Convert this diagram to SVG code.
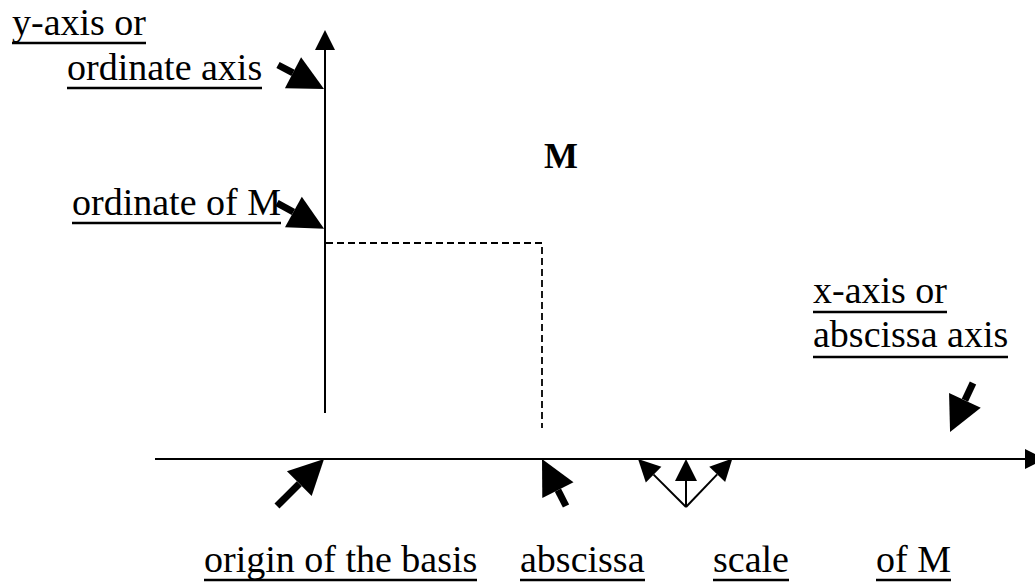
<svg xmlns="http://www.w3.org/2000/svg" width="1035" height="584" viewBox="0 0 1035 584">
  <style>
    text { font-family: "Liberation Serif", "Times New Roman", serif; font-size: 38px; fill: #000; }
    .b { font-weight: bold; font-size: 36px; }
    .ul { stroke: #000; stroke-width: 2.5; }
    .axis { stroke: #000; stroke-width: 2; fill: none; }
    .dash { stroke: #000; stroke-width: 1.8; stroke-dasharray: 7 4; fill: none; }
    .thick { stroke: #000; stroke-width: 7; fill: none; marker-end: url(#bigHead); }
    .thin { stroke: #000; stroke-width: 2; fill: none; marker-end: url(#smallHead); }
  </style>
  <defs>
    <marker id="bigHead" markerUnits="userSpaceOnUse" markerWidth="35" markerHeight="35" refX="0" refY="17.5" orient="auto" overflow="visible">
      <path d="M0,0 L35,17.5 L0,35 z" fill="#000"/>
    </marker>
    <marker id="smallHead" markerUnits="userSpaceOnUse" markerWidth="22" markerHeight="22" refX="0" refY="11" orient="auto" overflow="visible">
      <path d="M0,0 L22,11 L0,22 z" fill="#000"/>
    </marker>
  </defs>
  <rect width="1035" height="584" fill="#fff"/>

  <g id="connectors">
    <!-- y axis -->
    <line class="axis" x1="325" y1="413" x2="325" y2="48"/>
    <polygon points="325,30 335,50 315,50" fill="#000"/>
    <!-- x axis -->
    <line class="axis" x1="155" y1="459" x2="1027" y2="459"/>
    <polygon points="1045,459 1025,469 1025,449" fill="#000"/>
    <!-- dashed projections -->
    <polyline class="dash" points="326,243 542,243 542,428"/>
    <!-- thick pointer arrows -->
    <line class="thick" x1="278" y1="65" x2="293" y2="72.8"/>
    <line class="thick" x1="277" y1="203" x2="293.4" y2="212"/>
    <line class="thick" x1="277" y1="506" x2="299.3" y2="483.7"/>
    <line class="thick" x1="566" y1="506" x2="557.9" y2="490.1"/>
    <line class="thick" x1="973" y1="383" x2="964.9" y2="400.3"/>
    <!-- scale arrows -->
    <line class="thin" x1="686" y1="507" x2="653.6" y2="474.6"/>
    <line class="thin" x1="686" y1="507" x2="686" y2="481"/>
    <line class="thin" x1="686" y1="507" x2="717.2" y2="474.4"/>
  </g>

  <g id="label-y-axis">
    <text x="12" y="35">y-axis or</text>
    <line class="ul" x1="12" y1="43" x2="146" y2="43"/>
    <text x="67" y="80">ordinate axis</text>
    <line class="ul" x1="67" y1="88" x2="262" y2="88"/>
  </g>
  <g id="label-ordinate-of-M">
    <text x="72" y="215">ordinate of M</text>
    <line class="ul" x1="72" y1="223" x2="281" y2="223"/>
  </g>
  <g id="point-M">
    <text class="b" x="544" y="168">M</text>
  </g>
  <g id="label-x-axis">
    <text x="813" y="303">x-axis or</text>
    <line class="ul" x1="813" y1="312" x2="947" y2="312"/>
    <text x="813" y="347">abscissa axis</text>
    <line class="ul" x1="813" y1="357" x2="1008" y2="357"/>
  </g>
  <g id="label-origin">
    <text x="204" y="572">origin of the basis</text>
    <line class="ul" x1="204" y1="580" x2="477" y2="580"/>
  </g>
  <g id="label-abscissa">
    <text x="520" y="572">abscissa</text>
    <line class="ul" x1="520" y1="580" x2="645" y2="580"/>
  </g>
  <g id="label-scale">
    <text x="713" y="572">scale</text>
    <line class="ul" x1="713" y1="580" x2="789" y2="580"/>
  </g>
  <g id="label-of-M">
    <text x="876" y="572">of M</text>
    <line class="ul" x1="876" y1="580" x2="951" y2="580"/>
  </g>
</svg>
